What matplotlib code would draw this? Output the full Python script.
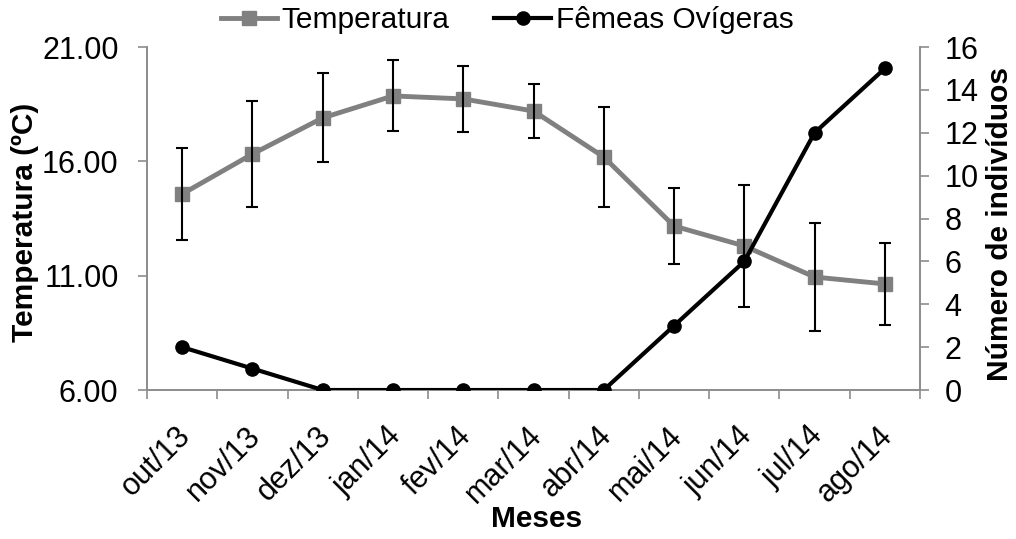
import matplotlib.pyplot as plt
import matplotlib.transforms as mtransforms
import numpy as np

plt.rcParams["font.family"] = ["Liberation Sans", "DejaVu Sans"]

meses = ["out/13", "nov/13", "dez/13", "jan/14", "fev/14", "mar/14",
         "abr/14", "mai/14", "jun/14", "jul/14", "ago/14"]
temperatura = [14.57, 16.32, 17.90, 18.86, 18.73, 18.20, 16.19, 13.17, 12.30, 10.94, 10.64]
temp_erro = [2.0, 2.3, 1.95, 1.55, 1.45, 1.2, 2.2, 1.65, 2.65, 2.35, 1.8]
femeas = [2, 1, 0, 0, 0, 0, 0, 3, 6, 12, 15]

axis_grey = "#8c8c8c"
tick_fs = 22
label_fs = 21.5
x = np.arange(len(meses))

fig = plt.figure(figsize=(10.16, 5.39), dpi=100)
ax = fig.add_axes([0.1447, 0.2764, 0.7608, 0.6364])
ax2 = ax.twinx()

ax.errorbar(x, temperatura, yerr=temp_erro, fmt="none", ecolor="black",
            elinewidth=1.5, capsize=4.5, capthick=1.5, zorder=4)
l1, = ax.plot(x, temperatura, color="#808080", lw=3.5, marker="s", ms=10.5,
              label="Temperatura", zorder=3)
l2, = ax2.plot(x, femeas, color="black", lw=3, marker="o", ms=9.5,
               label="Fêmeas Ovígeras", zorder=3)

ax.set_xlim(-0.5, len(meses) - 0.5)
ax.set_ylim(6, 21)
ax.set_yticks([6, 11, 16, 21])
ax.set_yticklabels([f"{v:.2f}" for v in [6, 11, 16, 21]])
ax2.set_ylim(0, 16)
ax2.set_yticks(range(0, 17, 2))

# category labels centred, tick marks on the boundaries
ax.set_xticks(np.arange(-0.5, len(meses), 1.0))
ax.set_xticklabels([])
ax.set_xticks(x, minor=True)
ax.set_xticklabels(meses, minor=True, rotation=45, ha="right", va="top",
                   rotation_mode="anchor", fontsize=tick_fs)
ax.tick_params(axis="x", which="minor", length=0, pad=22)
ax.tick_params(axis="x", which="major", length=6.5, color=axis_grey, width=1.2)
shift = mtransforms.ScaledTranslation(-0.07, 0, fig.dpi_scale_trans)
for lab in ax.get_xticklabels(minor=True):
    lab.set_transform(lab.get_transform() + shift)

ax.tick_params(axis="y", labelsize=tick_fs, length=6.5, pad=14, color=axis_grey, width=1.2)
ax2.tick_params(axis="y", labelsize=tick_fs, length=6.5, pad=11, color=axis_grey, width=1.2)

for a in (ax, ax2):
    a.spines["top"].set_visible(False)
    for s in ("left", "right", "bottom"):
        a.spines[s].set_color(axis_grey)
        a.spines[s].set_linewidth(1.2)

ax.set_xlabel("Meses", fontsize=label_fs, fontweight="bold")
ax.xaxis.set_label_coords(0.504, -0.376)
ax.xaxis.label.set_va("center")
ax.set_ylabel("Temperatura (ºC)", fontsize=label_fs, fontweight="bold")
ax.yaxis.set_label_coords(-0.158, 0.49)
ax.yaxis.label.set_va("center")
ax2.set_ylabel("Número de indivíduos", fontsize=label_fs, fontweight="bold")
ax2.yaxis.set_label_coords(1.104, 0.485)
ax2.yaxis.label.set_va("center")

fig.legend([l1, l2], ["Temperatura", "Fêmeas Ovígeras"], loc="center",
           bbox_to_anchor=(0.499, 0.962), ncol=2, frameon=False, fontsize=label_fs,
           handlelength=1.9, handletextpad=0.15, columnspacing=1.5,
           borderpad=0, borderaxespad=0)

fig.savefig("out.png", dpi=100)
